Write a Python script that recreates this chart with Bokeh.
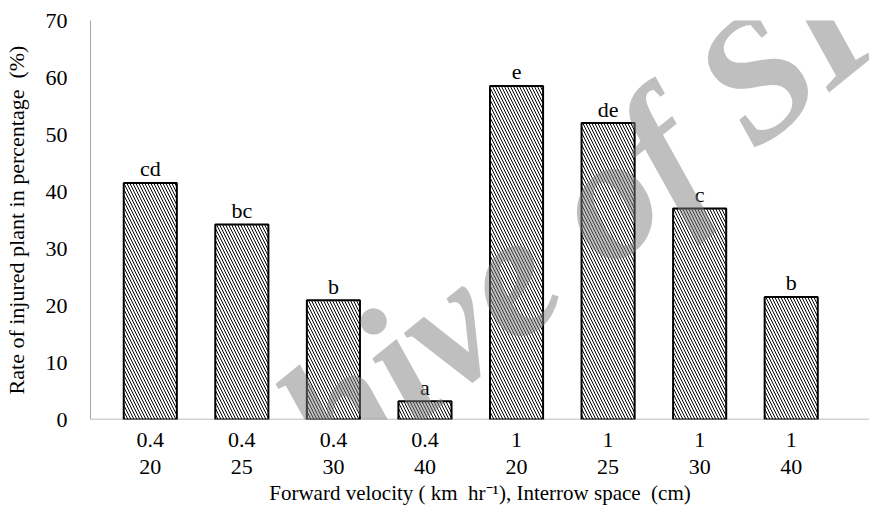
from bokeh.plotting import figure
from bokeh.models import LinearAxis, FixedTicker, Range1d, Span
from bokeh.embed import file_html
from bokeh.resources import INLINE
from bokeh.core.properties import value

# ---- data ----
velocity = ["0.4", "0.4", "0.4", "0.4", "1", "1", "1", "1"]
spacing = ["20", "25", "30", "40", "20", "25", "30", "40"]
injured = [41.5, 34.2, 20.9, 3.2, 58.5, 52.0, 37.0, 21.5]
letters = ["cd", "bc", "b", "a", "e", "de", "c", "b"]
y_ticks = [0, 10, 20, 30, 40, 50, 60, 70]
y_title = "Rate of injured plant in percentage \u00a0(%)"
x_title = "Forward velocity ( km \u00a0hr\u207b\u00b9), Interrow space \u00a0(cm)"
watermark = "Archive of SID"

positions = list(range(1, len(injured) + 1))

FONT = "Liberation Serif"
FS = "22px"
AXIS_GRAY = "#a6a6a6"

p = figure(width=869, height=507, output_backend="svg", toolbar_location=None,
           x_range=Range1d(0.347, 8.855), y_range=Range1d(0, 70),
           x_axis_type=None, y_axis_type=None,
           min_border_left=88, min_border_right=0, min_border_top=20, min_border_bottom=0)
p.outline_line_color = None
p.background_fill_color = "white"
p.border_fill_color = "white"

# y axis
yaxis = LinearAxis(ticker=FixedTicker(ticks=y_ticks), axis_label=y_title)
yaxis.axis_line_color = AXIS_GRAY
yaxis.major_tick_line_color = None
yaxis.minor_tick_line_color = None
yaxis.major_label_standoff = 17
yaxis.axis_label_standoff = 14
yaxis.major_label_text_font = FONT
yaxis.major_label_text_font_size = FS
yaxis.major_label_text_color = "black"
yaxis.axis_label_text_font = FONT
yaxis.axis_label_text_font_size = FS
yaxis.axis_label_text_font_style = "normal"
yaxis.axis_label_text_color = "black"
p.add_layout(yaxis, "left")

# x axis row 1 (velocity)
xaxis1 = LinearAxis(ticker=FixedTicker(ticks=positions),
                    major_label_overrides={i: v for i, v in zip(positions, velocity)})
xaxis1.axis_line_color = None
xaxis1.major_tick_line_color = None
xaxis1.minor_tick_line_color = None
xaxis1.major_label_standoff = 7
xaxis1.major_label_text_font = FONT
xaxis1.major_label_text_font_size = FS
xaxis1.major_label_text_color = "black"
p.add_layout(xaxis1, "below")

# x axis row 2 (interrow spacing) + title
xaxis2 = LinearAxis(ticker=FixedTicker(ticks=positions),
                    major_label_overrides={i: s for i, s in zip(positions, spacing)},
                    axis_label=x_title)
xaxis2.axis_line_color = None
xaxis2.major_tick_line_color = None
xaxis2.minor_tick_line_color = None
xaxis2.major_label_standoff = 4
xaxis2.axis_label_standoff = 4
xaxis2.major_label_text_font = FONT
xaxis2.major_label_text_font_size = FS
xaxis2.major_label_text_color = "black"
xaxis2.axis_label_text_font = FONT
xaxis2.axis_label_text_font_size = "21px"
xaxis2.axis_label_text_font_style = "normal"
xaxis2.axis_label_text_color = "black"
p.add_layout(xaxis2, "below")

# gray baseline under the bars
p.add_layout(Span(location=0, dimension="width", line_color=AXIS_GRAY,
                  line_width=1.5, level="underlay"))

# bars
p.vbar(x=positions, top=injured, bottom=0, width=0.58,
       fill_color="white", line_color="black", line_width=2,
       hatch_pattern="\\", hatch_color="black", hatch_scale=6, hatch_weight=1)

# significance letters
p.text(x=positions, y=injured, text=letters, text_align="center",
       text_baseline="alphabetic", y_offset=-14,
       text_font=value(FONT), text_font_size=FS, text_color="black")

# semi-transparent watermark drawn across the chart
p.text(x=[5.05], y=[27.0], text=[watermark], angle=0.68,
       text_align="center", text_baseline="alphabetic",
       text_font=value(FONT), text_font_style="bold italic",
       text_font_size="175px", text_color="#808080", text_alpha=0.5)

open("out.html", "w").write(file_html(p, INLINE))
